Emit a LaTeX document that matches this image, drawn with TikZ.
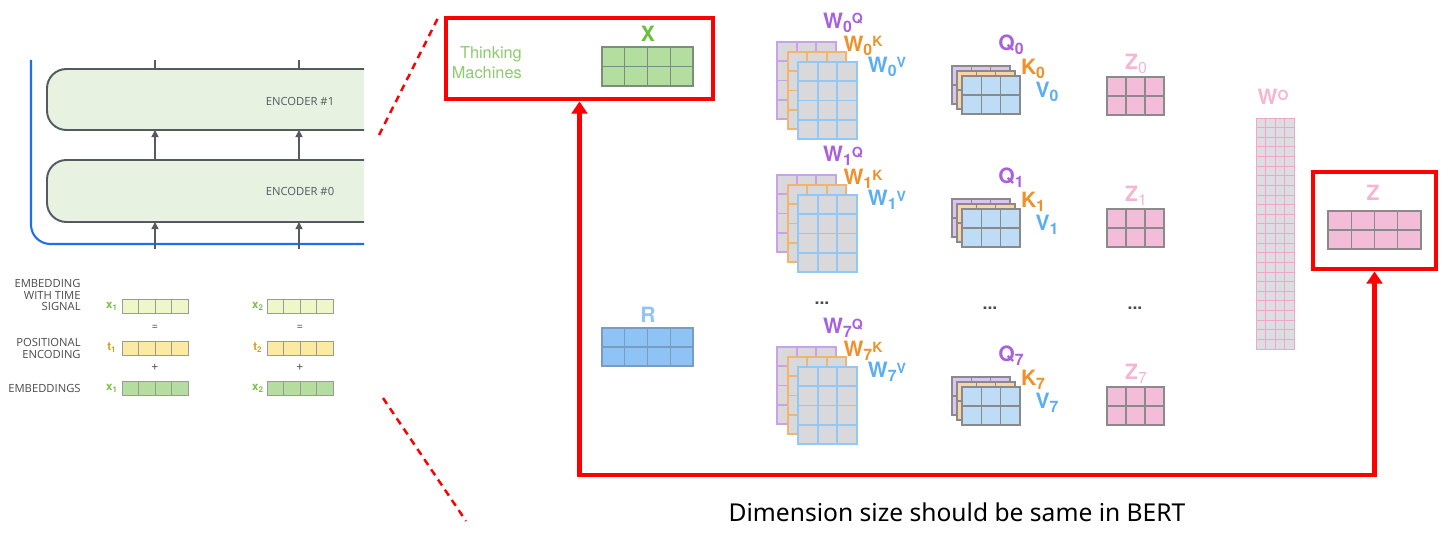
\documentclass[tikz,border=0pt]{standalone}
\usepackage{fontspec}
\setmainfont{Noto Sans}
\setsansfont{TeX Gyre Heros}
\newfontfamily\encfont{Open Sans}
\usetikzlibrary{arrows.meta,positioning}

\definecolor{cellgray}{HTML}{D9D9DB}
\definecolor{wpurple}{HTML}{C9A3EA}
\definecolor{worange}{HTML}{F5B46A}
\definecolor{wblue}{HTML}{92C8F5}
\definecolor{lpurple}{HTML}{A860DC}
\definecolor{lorange}{HTML}{F0902A}
\definecolor{lblue}{HTML}{5BAEF2}
\definecolor{qpurple}{HTML}{D9C5F0}
\definecolor{qorange}{HTML}{FAD3A6}
\definecolor{qblue}{HTML}{BEDCF6}
\definecolor{gridgray}{HTML}{8A8A8A}
\definecolor{zfill}{HTML}{F3BCD9}
\definecolor{zlab}{HTML}{F5B5D3}
\definecolor{rfill}{HTML}{8EC3F5}
\definecolor{rlab}{HTML}{93C5F2}
\definecolor{rbord}{HTML}{7A9CC0}
\definecolor{xfill}{HTML}{B3DEA0}
\definecolor{xbord}{HTML}{7A8F7A}
\definecolor{xlab}{HTML}{6BBF3B}
\definecolor{tmgreen}{HTML}{8BCB6A}
\definecolor{wofill}{HTML}{DDDDE2}
\definecolor{wobord}{HTML}{F0A6CB}
\definecolor{encfill}{HTML}{E7F2E1}
\definecolor{encline}{HTML}{545A60}
\definecolor{encblue}{HTML}{1E6FEF}
\definecolor{emtime}{HTML}{EEF7C8}
\definecolor{empos}{HTML}{FCE9A3}
\definecolor{emgreen}{HTML}{B4DEA0}
\definecolor{embord}{HTML}{9A9A9A}
\definecolor{tlab}{HTML}{D4A017}
\definecolor{xsmall}{HTML}{7BC043}
\definecolor{textgray}{HTML}{4A4A4A}

\tikzset{
  redbox/.style={draw=red,line width=2.8pt,inner sep=0pt},
  redline/.style={draw=red,line width=2.8pt,{Triangle[width=9pt,length=7pt]}-{Triangle[width=9pt,length=7pt]}},
  zoomline/.style={draw=red,line width=1.4pt,dash pattern=on 4pt off 3pt},
  lab/.style={font=\sffamily\bfseries\fontsize{12}{12}\selectfont,inner sep=0pt},
  encbox/.style={fill=encfill,draw=encline,line width=1.1pt,rounded corners=11pt},
  enctext/.style={font=\encfont\fontsize{6.4}{7}\selectfont,text=encline},
  sidetext/.style={font=\encfont\fontsize{6.4}{6.8}\selectfont,text=textgray,align=right,anchor=east,inner sep=0pt},
  smalllab/.style={font=\sffamily\bfseries\fontsize{6.5}{7}\selectfont,inner sep=0pt},
  flow/.style={draw=encline,line width=0.8pt,-{Triangle[width=4pt,length=4pt]}},
  dots/.style={font=\sffamily\bfseries\fontsize{10}{10}\selectfont,text=textgray}
}

% label with index and head letter
\newcommand{\hlab}[3]{#1\raisebox{-2.4pt}{\fontsize{9}{9}\selectfont #2}\raisebox{2.6pt}{\fontsize{8}{8}\selectfont #3}}

% grid: x, top y, width, height, cols, rows, fill, draw, line width
\newcommand{\mgrid}[9]{%
  \filldraw[fill=#7,draw=#8,line width=#9] ({#1},{-(#2)}) rectangle ++({#3},{-(#4)});
  \foreach \k in {1,...,#5}{\draw[draw=#8,line width=#9] ({#1+(#3)*\k/(#5)},{-(#2)}) -- ++(0,{-(#4)});}
  \foreach \k in {1,...,#6}{\draw[draw=#8,line width=#9] ({#1},{-(#2)-(#4)*\k/(#6)}) -- ++({#3},0);}
}

% weight stack: top y, head index
\newcommand{\wstack}[2]{%
  \mgrid{777}{#1}{59}{77}{3}{4}{cellgray}{wpurple}{1.1pt}
  \mgrid{788}{#1+10}{58}{77}{3}{4}{cellgray}{worange}{1.1pt}
  \mgrid{798}{#1+20}{59}{77}{3}{4}{cellgray}{wblue}{1.1pt}
  \node[lab,text=lpurple] (wq#2) at (843,{-(#1)+19}) {\hlab{W}{#2}{Q}};
  \node[lab,text=lorange] (wk#2) at (863,{-(#1)-4}) {\hlab{W}{#2}{K}};
  \node[lab,text=lblue] (wv#2) at (887,{-(#1)-25}) {\hlab{W}{#2}{V}};
}

% q/k/v stack: top y, head index
\newcommand{\qkvstack}[2]{%
  \mgrid{952}{#1}{58}{38}{3}{2}{qpurple}{gridgray}{0.6pt}
  \mgrid{957}{#1+5}{58}{38}{3}{2}{qorange}{gridgray}{0.6pt}
  \mgrid{962}{#1+10}{58}{38}{3}{2}{qblue}{gridgray}{0.6pt}
  \node[lab,text=lpurple] (q#2) at (1011,{-(#1)+21}) {\hlab{Q}{#2}{}};
  \node[lab,text=lorange] (k#2) at (1033,{-(#1)-3}) {\hlab{K}{#2}{}};
  \node[lab,text=lblue] (v#2) at (1047,{-(#1)-26}) {\hlab{V}{#2}{}};
}

% z: top y, head index
\newcommand{\zhead}[2]{%
  \mgrid{1107}{#1}{57}{38}{3}{2}{zfill}{gridgray}{0.6pt}
  \node[lab,text=zlab] (z#2) at (1136,{-(#1)+13}) {Z\raisebox{-2pt}{\mdseries\fontsize{9}{9}\selectfont #2}};
}

\begin{document}
\begin{tikzpicture}[x=0.02cm,y=0.02cm]
\useasboundingbox (0,0) rectangle (1450,-533);

% encoder stack
\draw[encblue,line width=1.2pt,rounded corners=11pt] (31,-60) -- (31,-244) -- (364,-244);
\filldraw[encbox] (364,-69) -- (47,-69) -- (47,-130) -- (364,-130);
\filldraw[encbox] (364,-160) -- (47,-160) -- (47,-222) -- (364,-222);
\node[enctext] (enc1) at (300,-101) {ENCODER \#1};
\node[enctext] (enc0) at (300,-191) {ENCODER \#0};
\foreach \x [count=\n] in {155,299}{
  \coordinate (in\n) at (\x,-249);
  \coordinate (bot0\n) at (\x,-222);
  \coordinate (top0\n) at (\x,-160);
  \coordinate (bot1\n) at (\x,-130);
  \coordinate (top1\n) at (\x,-69);
  \coordinate (out\n) at (\x,-60);
  \draw[flow] (in\n) -- (bot0\n);
  \draw[flow] (top0\n) -- (bot1\n);
  \draw[draw=encline,line width=0.8pt] (top1\n) -- (out\n);
}

% embeddings
\node[sidetext] (sig) at (81,-295) {EMBEDDING\\WITH TIME\\SIGNAL};
\node[sidetext] (pos) at (81,-348.5) {POSITIONAL\\ENCODING};
\node[sidetext] (emb) at (81,-388) {EMBEDDINGS};
\foreach \x/\lx [count=\n] in {122/112,267/258}{
  \mgrid{\x}{299}{66}{14}{4}{1}{emtime}{embord}{0.5pt}
  \mgrid{\x}{341}{66}{14}{4}{1}{empos}{embord}{0.5pt}
  \mgrid{\x}{381}{66}{14}{4}{1}{emgreen}{embord}{0.5pt}
  \node[smalllab,text=xsmall] (xs\n) at (\lx,-306) {x\textsubscript{\n}};
  \node[smalllab,text=tlab] (ts\n) at (\lx,-348) {t\textsubscript{\n}};
  \node[smalllab,text=xsmall] (xe\n) at (\lx,-388) {x\textsubscript{\n}};
  \node[smalllab,text=textgray,font=\encfont\fontsize{6}{6}\selectfont] (eq\n) at ({\x+33},-328) {=};
  \node[smalllab,text=textgray,font=\encfont\fontsize{7}{7}\selectfont] (pl\n) at ({\x+33},-368) {+};
}

% zoom lines
\draw[zoomline] (379,-135) -- (438,-18);
\draw[zoomline] (383,-398) -- (466,-521);

% input X
\node[redbox,minimum width=5.34cm,minimum height=1.62cm] (xbox) at (579.5,-58.5) {};
\node[font=\sffamily\fontsize{9.3}{11.3}\selectfont,text=tmgreen,align=right,anchor=east] (words) at (528,-63) {Thinking\\Machines};
\mgrid{602}{47}{91}{39}{4}{2}{xfill}{xbord}{0.6pt}
\node[lab,text=xlab] (xname) at (648,-34) {X};

% R
\mgrid{602}{328}{91}{38}{4}{2}{rfill}{rbord}{0.6pt}
\node[lab,text=rlab] (rname) at (648,-315) {R};

% heads
\wstack{42}{0}
\wstack{175}{1}
\wstack{347}{7}
\qkvstack{66}{0}
\qkvstack{199}{1}
\qkvstack{377}{7}
\zhead{77}{0}
\zhead{209}{1}
\zhead{387}{7}
\node[dots] (d1) at (822,-303) {...};
\node[dots] (d2) at (990,-308) {...};
\node[dots] (d3) at (1135,-308) {...};

% output projection
\mgrid{1256}{118}{38}{231}{4}{24}{wofill}{wobord}{0.5pt}
\node[lab,text=zlab] (wo) at (1273,-97) {W\raisebox{2.6pt}{\fontsize{8}{8}\selectfont O}};

% output Z
\node[redbox,minimum width=2.46cm,minimum height=1.94cm] (zbox) at (1374.5,-220.5) {};
\mgrid{1328}{211}{93}{38}{4}{2}{zfill}{gridgray}{0.6pt}
\node[lab,text=zlab] (zname) at (1373,-193) {Z};

% same size loop
\coordinate (low) at (0,-475);
\draw[redline] (xbox.south) -- (xbox.south |- low) -| (zbox.south);
\node[font=\fontsize{14}{14}\selectfont] (note) at (957,-512) {Dimension size should be same in BERT};
\end{tikzpicture}
\end{document}
